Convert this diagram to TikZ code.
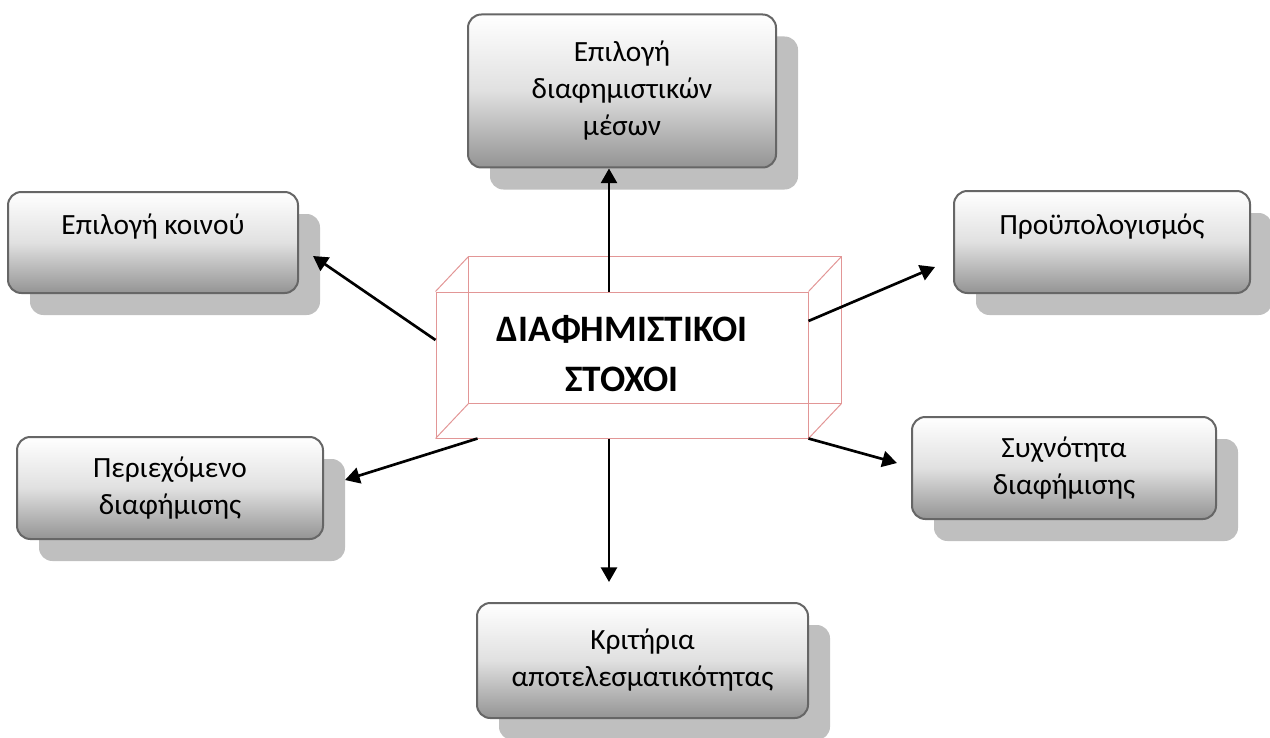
\documentclass[tikz,border=0pt]{standalone}
\usepackage{fontspec}
\setmainfont{Carlito}
\usetikzlibrary{arrows.meta,shadows}
\definecolor{cubered}{RGB}{226,150,150}
\tikzset{
  card/.style = {draw=black!60, line width=1.5pt, rounded corners=10pt,
                 top color=white, bottom color=black!42, middle color=black!12,
                 align=center, inner sep=0pt, font=\fontsize{22}{27.75}\selectfont,
                 drop shadow={shadow xshift=16.5pt, shadow yshift=-16.5pt,
                              opacity=1, fill=black!25}},
  face/.style = {draw=cubered, line width=0.75pt, minimum width=279pt,
                 minimum height=109.5pt, align=center, inner sep=0pt,
                 font=\fontsize{28}{37.5}\selectfont\bfseries},
  edge3d/.style = {draw=cubered, line width=0.75pt},
  vec/.style  = {-{Triangle[length=11pt,width=12pt]}, line width=2pt},
}
\begin{document}
\begin{tikzpicture}[x=0.75pt,y=-0.75pt]
  \useasboundingbox (0,0) rectangle (1270,738);

  \node[face, text depth=18pt] (goal) at (622,365) {ΔΙΑΦΗΜΙΣΤΙΚΟΙ\\ΣΤΟΧΟΙ};
  \draw[edge3d] ([shift={(33,-35)}]goal.north west) rectangle ([shift={(33,-35)}]goal.south east);
  \foreach \c in {north west,north east,south west,south east}
    \draw[edge3d] (goal.\c) -- ([shift={(33,-35)}]goal.\c);

  \node[card, minimum width=231pt, minimum height=114.75pt] (media) at (622,91)
    {Επιλογή\\διαφημιστικών\\μέσων};
  \node[card, minimum width=217.5pt, minimum height=75.75pt, text depth=27pt] (audience)
    at (153,242.5) {Επιλογή κοινού};
  \node[card, minimum width=222pt, minimum height=76.5pt, text depth=27pt] (budget)
    at (1102,242) {Προϋπολογισμός};
  \node[card, minimum width=229.5pt, minimum height=76.5pt] (content) at (170,488)
    {Περιεχόμενο\\διαφήμισης};
  \node[card, minimum width=228pt, minimum height=76.5pt] (freq) at (1064,468)
    {Συχνότητα\\διαφήμισης};
  \node[card, minimum width=248.25pt, minimum height=86.25pt] (crit) at (642.5,660.5)
    {Κριτήρια\\αποτελεσματικότητας};

  \coordinate (toAud) at (313,256);
  \coordinate (toBud) at (935,267);
  \coordinate (toCon) at (345,480);
  \coordinate (toCrit) at (609,582);
  \coordinate (toFreq) at (897,463);

  \draw[vec] ([xshift=-9.75pt]goal.north) -- ([xshift=-9.75pt]media.south);
  \draw[vec] ([yshift=18.75pt]goal.west) -- (toAud);
  \draw[vec] ([yshift=33pt]goal.east) -- (toBud);
  \draw[vec] ([xshift=31.5pt]goal.south west) -- (toCon);
  \draw[vec] ([xshift=-9.75pt]goal.south) -- (toCrit);
  \draw[vec] (goal.south east) -- (toFreq);
\end{tikzpicture}
\end{document}
